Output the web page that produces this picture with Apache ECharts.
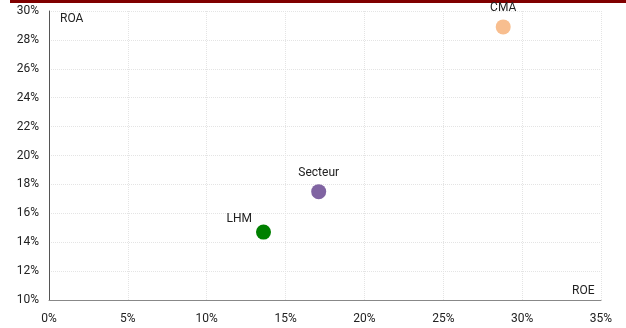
<!DOCTYPE html>
<html><head><meta charset="utf-8">
<script src="https://cdn.jsdelivr.net/npm/echarts@6/dist/echarts.min.js"></script>
<style>html,body{margin:0;padding:0;background:#fff}#c{width:626px;height:328px}</style>
</head><body><div id="c"></div>
<script>
const names = ['CMA','Secteur','LHM'];
const roe = [28.8, 17.1, 13.6];
const roa = [28.9, 17.5, 14.7];
const colors = ['#F8BE8F','#8064A2','#008000'];
const labelPos = ['top','top','left'];
const xTicks = [0,5,10,15,20,25,30,35];
const yTicks = [10,12,14,16,18,20,22,24,26,28,30];
const FONT = 'Roboto,"Liberation Sans",sans-serif';

const chart = echarts.init(document.getElementById('c'));
chart.setOption({
  animation:false,
  textStyle:{fontFamily:FONT},
  graphic:[
    {type:'rect',shape:{x:10,y:0,width:616,height:3},style:{fill:'#800000'}},
    {type:'text',left:60,top:13,style:{text:'ROA',fontSize:12,fill:'#222',fontFamily:FONT}},
    {type:'text',left:572,top:285,style:{text:'ROE',fontSize:12,fill:'#222',fontFamily:FONT}}
  ],
  grid:{left:49,right:25,top:11,bottom:28,containLabel:false},
  xAxis:{type:'value',min:0,max:35,interval:5,
    axisLine:{lineStyle:{color:'#888'}},axisTick:{show:false},
    axisLabel:{formatter:v=>v+'%',fontSize:12,color:'#222',margin:13,fontFamily:FONT},
    splitLine:{show:true,lineStyle:{color:'#e4e4e4',type:'dotted'}}},
  yAxis:{type:'value',min:10,max:30,interval:2,
    axisLine:{show:true,lineStyle:{color:'#555'}},axisTick:{show:false},
    axisLabel:{formatter:v=>v+'%',fontSize:12,color:'#222',margin:10,fontFamily:FONT},
    splitLine:{show:true,lineStyle:{color:'#e4e4e4',type:'dotted'}}},
  series: names.map((n,i)=>({
    type:'scatter',name:n,symbolSize:15,
    itemStyle:{color:colors[i],opacity:1},
    label:{show:true,formatter:n,position:labelPos[i],distance:labelPos[i]==='left'?4:5,
      offset:labelPos[i]==='left'?[0,-13]:[0,0],
      fontSize:12,color:'#222',fontFamily:FONT},
    data:[[roe[i],roa[i]]]
  }))
});
</script></body></html>
